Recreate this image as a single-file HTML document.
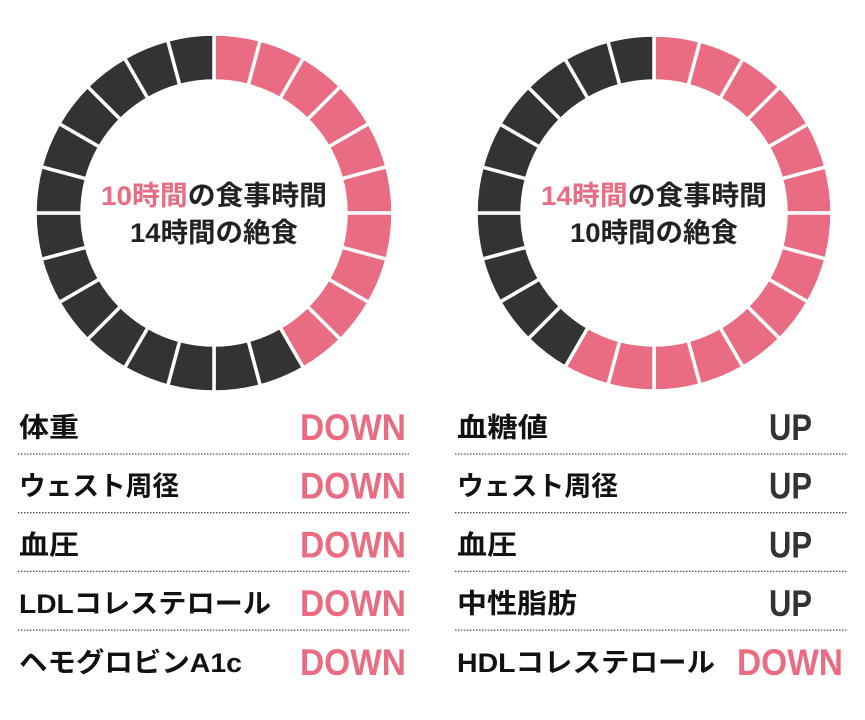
<!DOCTYPE html>
<html><head><meta charset="utf-8">
<style>
html,body{margin:0;padding:0;background:#fff;}
svg{display:block;}
text{font-family:"Liberation Sans","Noto Sans CJK JP",sans-serif;font-weight:bold;}
</style></head>
<body>
<svg id="chart" width="865" height="720" viewBox="0 0 865 720" xmlns="http://www.w3.org/2000/svg">
<g id="donuts"></g>
<g id="center-left">
<text x="101" y="205" font-size="27" textLength="226" lengthAdjust="spacingAndGlyphs" fill="#222"><tspan fill="#e96c82">10時間</tspan>の食事時間</text>
<text x="130" y="242" font-size="27" textLength="168" lengthAdjust="spacingAndGlyphs" fill="#222">14時間の絶食</text>
</g>
<g id="center-right">
<text x="541" y="205" font-size="27" textLength="226" lengthAdjust="spacingAndGlyphs" fill="#222"><tspan fill="#e96c82">14時間</tspan>の食事時間</text>
<text x="570" y="242" font-size="27" textLength="168" lengthAdjust="spacingAndGlyphs" fill="#222">10時間の絶食</text>
</g>
<g id="rows"></g>
</svg>
<script>
const hoursTotal = 24;
const eatingHours = [10, 14];
const leftLabels = ["体重","ウェスト周径","血圧","LDLコレステロール","ヘモグロビンA1c"];
const leftResults = ["DOWN","DOWN","DOWN","DOWN","DOWN"];
const rightLabels = ["血糖値","ウェスト周径","血圧","中性脂肪","HDLコレステロール"];
const rightResults = ["UP","UP","UP","UP","DOWN"];

const NS = "http://www.w3.org/2000/svg";
const PINK = "#e96c82", DARK = "#333333";
const donutGeom = [{cx:214,cy:213,R:179,r:132},{cx:654,cy:213,R:178,r:132}];
const leftLabelWidths = [60,160,60,252,223];
const rightLabelWidths = [91,161,60,120,258];
const dg = document.getElementById('donuts');

function pt(cx,cy,rad,a){return [cx+rad*Math.sin(a), cy-rad*Math.cos(a)];}
donutGeom.forEach((g,di)=>{
  const grp = document.createElementNS(NS,'g');
  
  
  dg.appendChild(grp);
  const step = 2*Math.PI/hoursTotal;
  for(let i=0;i<hoursTotal;i++){
    const a0=i*step, a1=(i+1)*step;
    const p1=pt(g.cx,g.cy,g.R,a0), p2=pt(g.cx,g.cy,g.R,a1), p3=pt(g.cx,g.cy,g.r,a1), p4=pt(g.cx,g.cy,g.r,a0);
    const path=document.createElementNS(NS,'path');
    path.setAttribute('d',`M${p1[0]},${p1[1]} A${g.R},${g.R} 0 0 1 ${p2[0]},${p2[1]} L${p3[0]},${p3[1]} A${g.r},${g.r} 0 0 0 ${p4[0]},${p4[1]} Z`);
    path.setAttribute('fill', i<eatingHours[di] ? PINK : DARK);
    path.setAttribute('stroke','#fff');
    path.setAttribute('stroke-width','3.5');
    
    
    grp.appendChild(path);
  }
});

const rows = document.getElementById('rows');
const cols = [
  {labels:leftLabels, results:leftResults, widths:leftLabelWidths, lx:19, rx:406, x0:18, x1:409},
  {labels:rightLabels, results:rightResults, widths:rightLabelWidths, lx:457, rx:843, x0:455, x1:847}
];
const rowY0 = 437, rowStep = 58.7;
cols.forEach((c,ci)=>{
  c.labels.forEach((lab,i)=>{
    const y = rowY0 + i*rowStep;
    const t=document.createElementNS(NS,'text');
    t.setAttribute('x',c.lx); t.setAttribute('y',y);
    t.setAttribute('font-size','27'); t.setAttribute('fill','#111');
    t.setAttribute('textLength',c.widths[i]); t.setAttribute('lengthAdjust','spacingAndGlyphs');
    
    
    t.textContent=lab; rows.appendChild(t);
    const res=c.results[i];
    const r=document.createElementNS(NS,'text');
    const w = res==='UP' ? 43 : 106;
    const rx = (ci===0 ? c.rx : (res==='UP' ? 812 : c.rx));
    r.setAttribute('x',rx-w); r.setAttribute('y',y+3);
    r.setAttribute('font-size','37');
    r.setAttribute('textLength',w); r.setAttribute('lengthAdjust','spacingAndGlyphs');
    r.setAttribute('fill', res==='UP' ? DARK : PINK);
    
    
    r.textContent=res; rows.appendChild(r);
    if(i<c.labels.length-1){
      const ln=document.createElementNS(NS,'line');
      const ly = 454 + i*rowStep;
      ln.setAttribute('x1',c.x0); ln.setAttribute('x2',c.x1);
      ln.setAttribute('y1',ly); ln.setAttribute('y2',ly);
      ln.setAttribute('stroke','#555'); ln.setAttribute('stroke-width','1.3');
      ln.setAttribute('stroke-dasharray','1.5 1.5');
      
      
      rows.appendChild(ln);
    }
  });
});
</script>
</body></html>
